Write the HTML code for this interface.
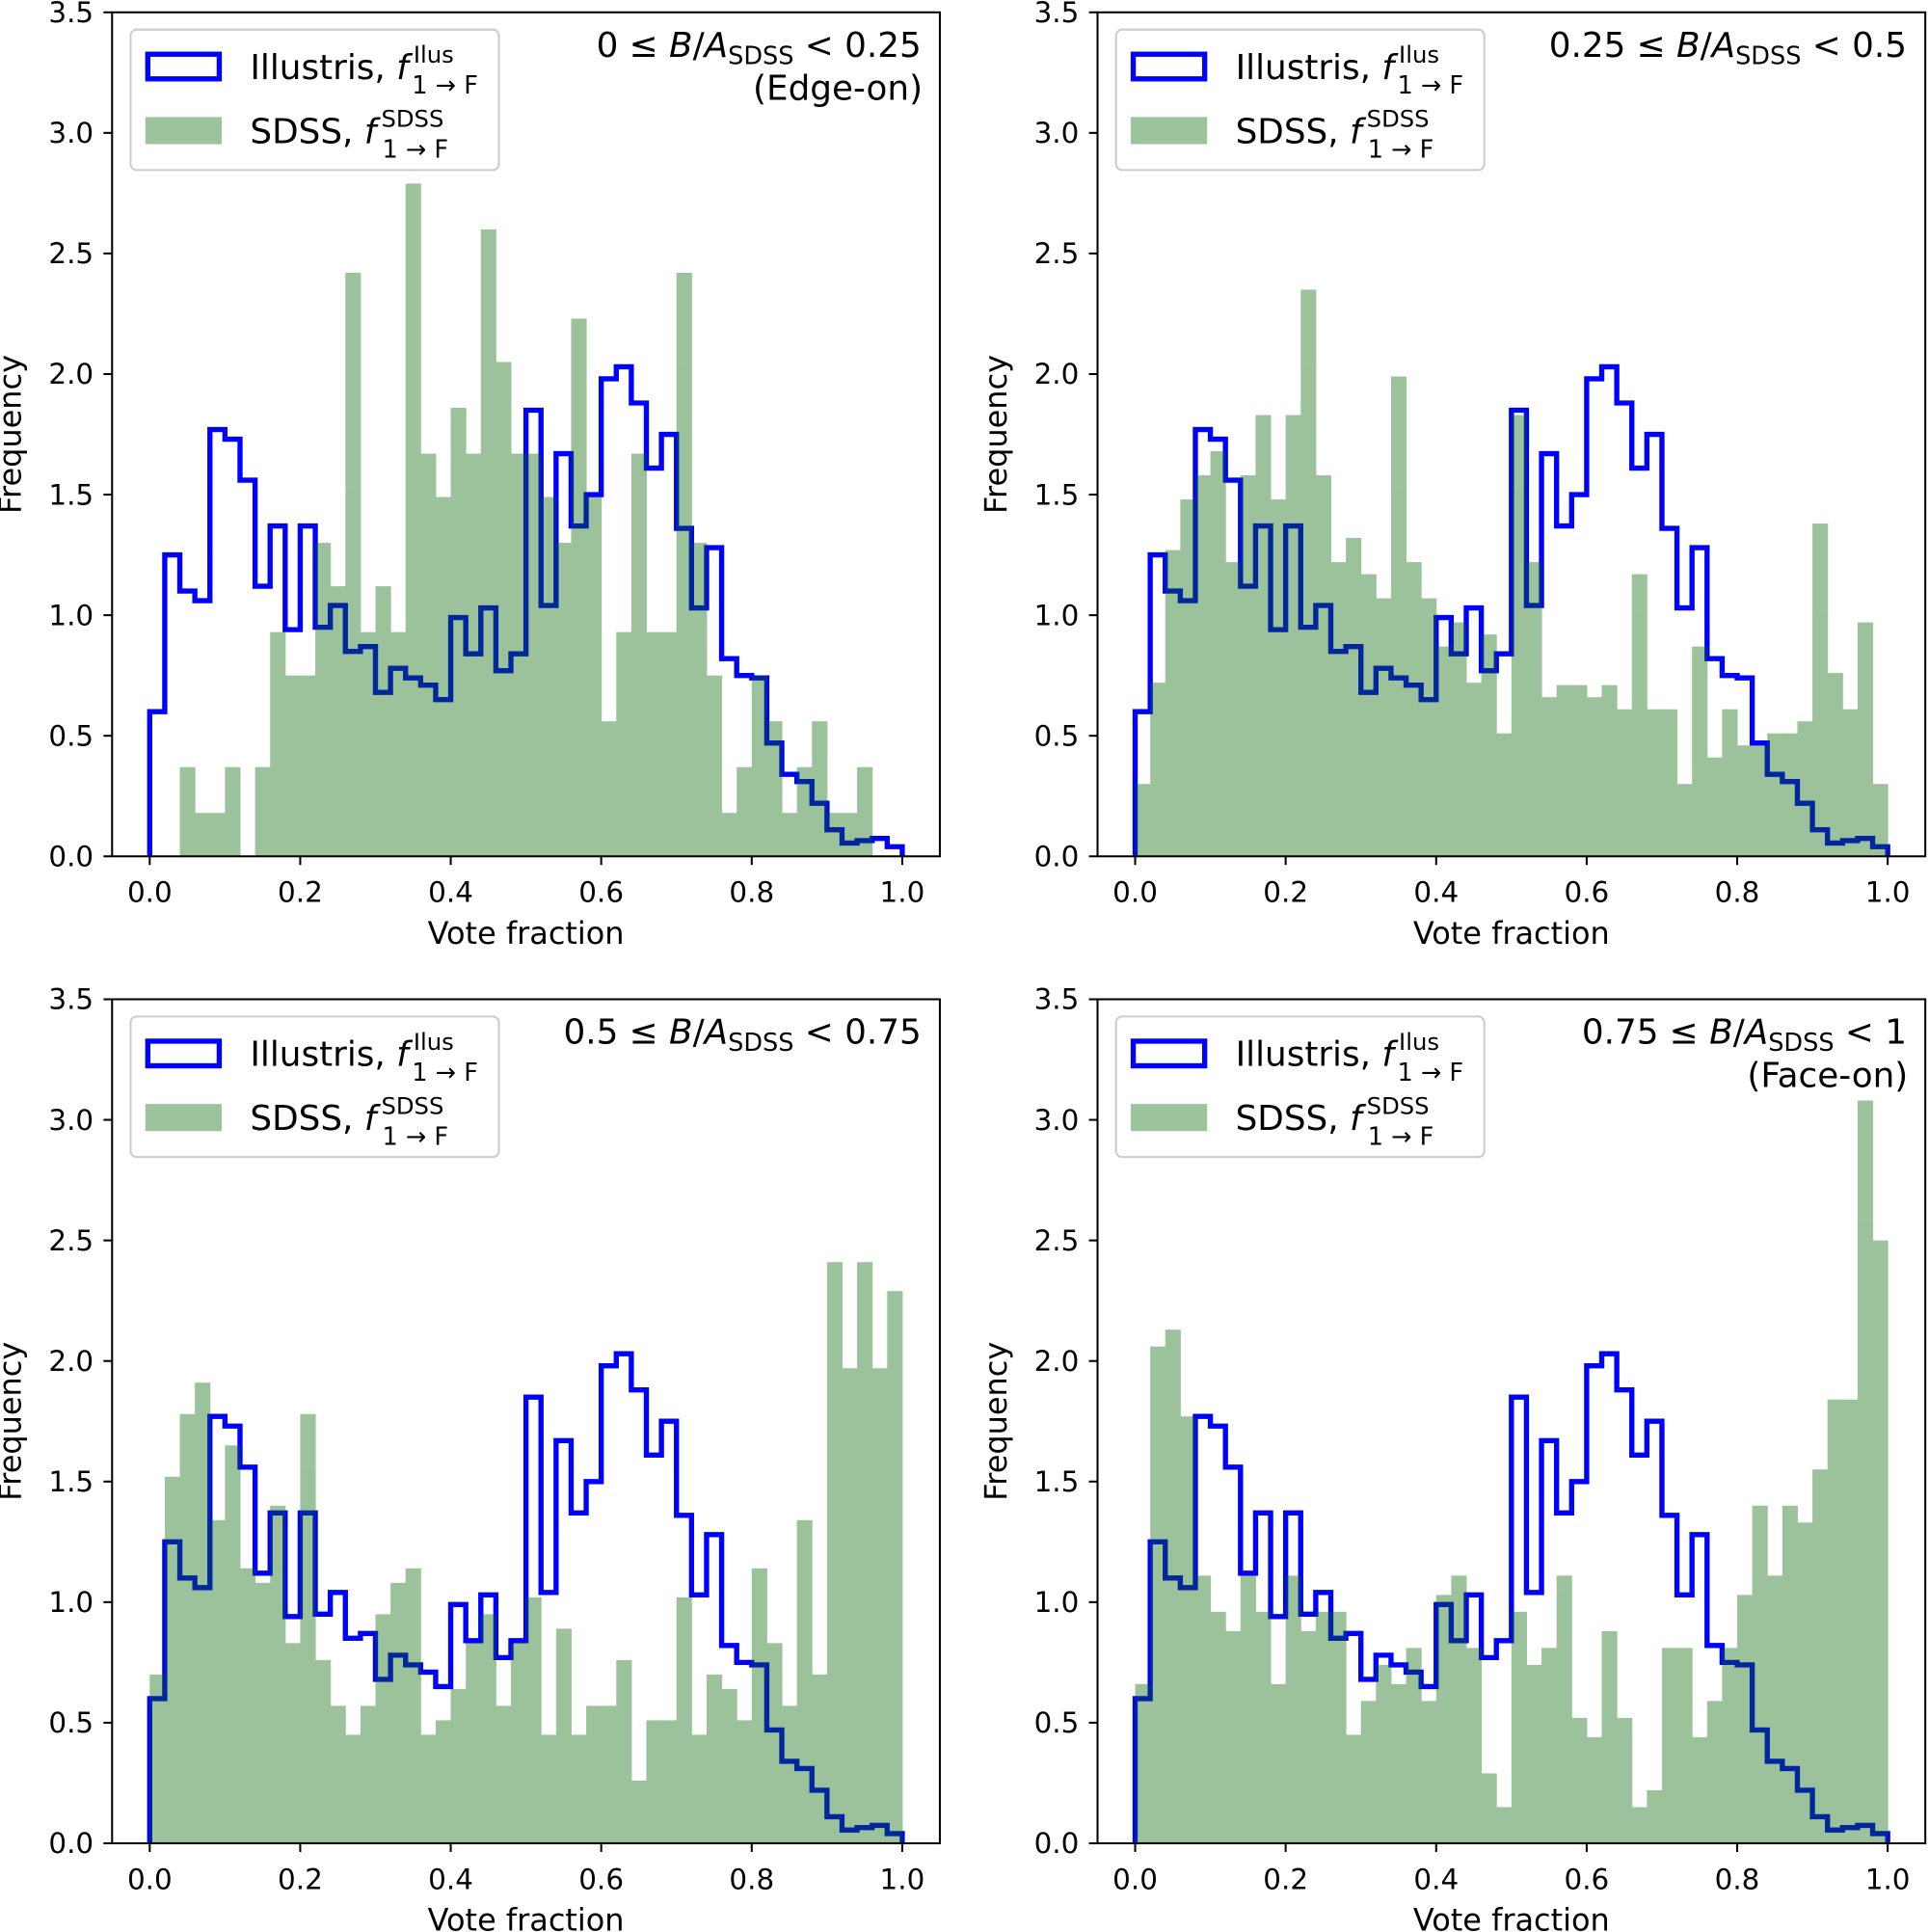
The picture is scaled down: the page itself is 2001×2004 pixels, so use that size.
<!DOCTYPE html>
<html><head><meta charset="utf-8"><style>
html,body{margin:0;padding:0;background:#fff;}
svg{display:block;}
text{font-family:"DejaVu Sans","Liberation Sans",sans-serif;fill:#000;}
</style></head><body>
<svg id="fig" width="2001" height="2004" viewBox="0 0 1566 1568" preserveAspectRatio="none" xmlns="http://www.w3.org/2000/svg"></svg>
<script>
const illustris = [0.60,1.25,1.10,1.06,1.77,1.73,1.56,1.12,1.37,0.94,1.37,0.95,1.04,0.85,0.87,0.68,0.78,0.74,0.71,0.65,0.99,0.84,1.03,0.77,0.84,1.85,1.04,1.67,1.37,1.50,1.98,2.03,1.88,1.61,1.75,1.36,1.03,1.28,0.82,0.75,0.74,0.47,0.34,0.31,0.22,0.11,0.055,0.065,0.074,0.04];
const sdss1 = [0,0,0.37,0.18,0.18,0.37,0,0.37,0.93,0.75,0.75,1.30,1.12,2.42,0.93,1.12,0.93,2.79,1.67,1.49,1.86,1.67,2.60,2.05,1.67,1.67,1.49,1.30,2.23,1.49,0.56,0.93,1.67,0.93,0.93,2.42,1.30,0.75,0.18,0.37,0.75,0.56,0.18,0.37,0.56,0.18,0.18,0.37,0,0];
const sdss2 = [0.30,0.72,1.27,1.48,1.58,1.68,1.22,1.58,1.83,1.48,1.83,2.35,1.58,1.22,1.32,1.17,1.07,1.99,1.22,1.07,0.87,0.97,0.72,0.92,0.51,1.83,1.22,0.66,0.71,0.71,0.66,0.71,0.61,1.17,0.61,0.61,0.30,0.87,0.41,0.61,0.46,0.46,0.51,0.51,0.56,1.38,0.76,0.61,0.97,0.30];
const sdss3 = [0.70,1.52,1.78,1.91,1.34,1.65,1.14,1.08,1.40,0.83,1.78,0.76,0.57,0.45,0.57,0.95,1.08,1.14,0.45,0.51,0.64,0.83,0.95,0.57,0.83,1.02,0.45,0.89,0.45,0.57,0.57,0.76,0.26,0.51,0.51,1.02,0.45,0.70,0.64,0.51,1.14,0.83,0.57,1.34,0.70,2.41,1.97,2.41,1.97,2.29];
const sdss4 = [0.66,2.06,2.13,1.77,1.11,0.96,0.88,1.11,0.96,0.66,1.11,0.88,0.96,0.96,0.45,0.59,0.74,0.66,0.81,0.59,1.03,1.11,0.81,0.29,0.15,0.96,0.74,0.81,1.11,0.52,0.44,0.88,0.52,0.15,0.22,0.81,0.81,0.44,0.59,0.81,1.03,1.40,1.11,1.40,1.33,1.55,1.84,1.84,3.08,2.50];
const xTicks = [0,0.2,0.4,0.6,0.8,1.0];
const xTickLabels = ["0.0","0.2","0.4","0.6","0.8","1.0"];
const yTicks = [0,0.5,1,1.5,2,2.5,3,3.5];
const yTickLabels = ["0.0","0.5","1.0","1.5","2.0","2.5","3.0","3.5"];
const annotLo = ["0","0.25","0.5","0.75"];
const annotHi = ["0.25","0.5","0.75","1"];
const annotSub = ["(Edge-on)","","","(Face-on)"];

const NS="http://www.w3.org/2000/svg";
const svg=document.getElementById('fig');
function mk(tag,attrs,parent){const e=document.createElementNS(NS,tag);for(const k in attrs)e.setAttribute(k,attrs[k]);(parent||svg).appendChild(e);return e;}

const AW=672, AH=685;
function drawPanel(idx, ox, oy, sdss){
  const g=mk('g',{});
  
  
  const x=d=>ox+AW*(d+0.05)/1.1;
  const y=v=>oy+AH-AH*v/3.5;
  const nb=illustris.length, w=1/nb;
  let d='M'+x(0)+','+y(0);
  for(let i=0;i<nb;i++){d+=' V'+y(illustris[i])+' H'+x((i+1)*w);}
  d+=' V'+y(0);
  const p=mk('path',{d:d,fill:'none',stroke:'#0000ff','stroke-width':4.2,'stroke-linejoin':'miter'},g);
  
  
  const bars=mk('g',{opacity:0.39},g);
  
  
  for(let i=0;i<sdss.length;i++){
    if(sdss[i]<=0)continue;
    const r=mk('rect',{x:x(i*w),y:y(sdss[i]),width:x((i+1)*w)-x(i*w)+0.4,height:y(0)-y(sdss[i]),fill:'#006400'},bars);
    
    
  }
  const f=mk('rect',{x:ox,y:oy,width:AW,height:AH,fill:'none',stroke:'#000','stroke-width':1.6},g);
  
  
  xTicks.forEach((t,i)=>{
    const l=mk('line',{x1:x(t),x2:x(t),y1:oy+AH,y2:oy+AH+7,stroke:'#000','stroke-width':1.6},g);
    
    
    const tx=mk('text',{x:x(t),y:oy+AH+37,'font-size':23,'text-anchor':'middle'},g);
    tx.textContent=xTickLabels[i];
    
    
  });
  yTicks.forEach((t,i)=>{
    const l=mk('line',{x1:ox-7,x2:ox,y1:y(t),y2:y(t),stroke:'#000','stroke-width':1.6},g);
    
    
    const tx=mk('text',{x:ox-15,y:y(t)+8,'font-size':23,'text-anchor':'end'},g);
    tx.textContent=yTickLabels[i];
    
    
  });
  const xl=mk('text',{x:ox+AW/2,y:oy+AH+71,'font-size':25,'text-anchor':'middle'},g);
  xl.textContent='Vote fraction';
  
  
  const yl=mk('text',{x:0,y:0,'font-size':25,'text-anchor':'middle',transform:'translate('+(ox-74)+','+(oy+AH/2)+') rotate(-90)'},g);
  yl.textContent='Frequency';
  
  
  const lg=mk('g',{},g);
  
  
  mk('rect',{x:ox+15,y:oy+14,width:299,height:114,rx:5,fill:'#fff','fill-opacity':0.8,stroke:'#cccccc','stroke-width':1.6},lg);
  const e1=mk('rect',{x:ox+29,y:oy+34,width:58,height:20,fill:'none',stroke:'#0000ff','stroke-width':4.2},lg);
  
  
  const e2=mk('rect',{x:ox+27,y:oy+85,width:62,height:22,fill:'#006400','fill-opacity':0.39},lg);
  
  
  const t1=mk('text',{x:ox+112,y:oy+54,'font-size':28},lg);
  t1.innerHTML='Illustris, <tspan font-style="italic">f</tspan><tspan font-size="19" dx="4" dy="-13">Ilus</tspan><tspan font-size="20" dx="-34" dy="25">1 → F</tspan>';
  
  
  const t2=mk('text',{x:ox+112,y:oy+106,'font-size':28},lg);
  t2.innerHTML='SDSS, <tspan font-style="italic">f</tspan><tspan font-size="19" dx="4" dy="-13">SDSS</tspan><tspan font-size="20" dx="-50" dy="25">1 → F</tspan>';
  
  
  const a=mk('text',{x:ox+AW-15,y:oy+36,'font-size':28,'text-anchor':'end'},g);
  a.innerHTML=annotLo[idx]+' ≤ <tspan font-style="italic">B</tspan>/<tspan font-style="italic">A</tspan><tspan font-size="20" dy="6">SDSS</tspan><tspan dy="-6"> &lt; '+annotHi[idx]+'</tspan>';
  
  
  if(annotSub[idx]){
    const a2=mk('text',{x:ox+AW-14,y:oy+71,'font-size':28,'text-anchor':'end'},g);
    a2.textContent=annotSub[idx];
    
    
  }
}
drawPanel(0,91,10,sdss1);
drawPanel(1,891,10,sdss2);
drawPanel(2,91,811,sdss3);
drawPanel(3,891,811,sdss4);
</script>
</body></html>
